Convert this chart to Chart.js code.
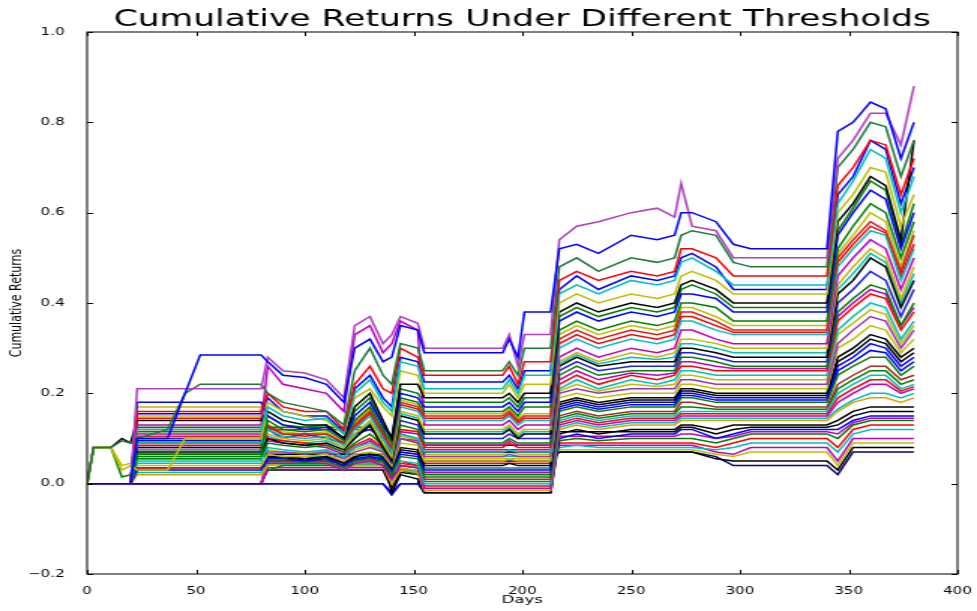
<!DOCTYPE html>
<html>
<head>
<meta charset="utf-8">
<title>Cumulative Returns Under Different Thresholds</title>
<script src="https://cdn.jsdelivr.net/npm/chart.js@4.4.1/dist/chart.umd.min.js"></script>
<style>
  html, body { margin: 0; padding: 0; background: #fff; overflow: hidden; }
</style>
</head>
<body>
<!-- drawn narrow, then stretched sideways like the source picture -->
<canvas id="chart" width="651" height="611" style="width:977px;height:611px"></canvas>
<script>
// key days where the curves change
const DAYS = [0, 3, 11, 16, 20, 23, 37, 45, 52, 80, 83, 90, 100, 110, 118, 123, 130, 136, 140, 144,
  152, 155, 191, 194, 198, 201, 213, 217, 225, 235, 250, 262, 270, 273, 278, 289, 297, 305, 340, 345,
  352, 360, 367, 374, 380]

const X_TICKS = [0, 50, 100, 150, 200, 250, 300, 350, 400]
const Y_TICKS = [-0.2, 0, 0.2, 0.4, 0.6, 0.8, 1.0]

// cumulative returns, one array per threshold
const R00 = [0, 0, 0, 0, 0, 0.1, 0.1, 0.2, 0.285, 0.285, 0.27, 0.24, 0.235, 0.22, 0.18, 0.3, 0.32, 0.27, 0.28, 0.35, 0.34, 0.29, 0.29, 0.32, 0.28, 0.38, 0.38, 0.52, 0.53, 0.51, 0.55, 0.54, 0.55, 0.6, 0.6, 0.58, 0.53, 0.52, 0.52, 0.78, 0.8, 0.845, 0.83, 0.72, 0.8]
const R01 = [0, 0, 0, 0, 0, 0.21, 0.21, 0.21, 0.21, 0.21, 0.28, 0.25, 0.245, 0.23, 0.19, 0.35, 0.37, 0.31, 0.33, 0.37, 0.355, 0.3, 0.3, 0.33, 0.26, 0.33, 0.33, 0.54, 0.57, 0.58, 0.6, 0.61, 0.59, 0.665, 0.57, 0.56, 0.5, 0.5, 0.5, 0.72, 0.76, 0.82, 0.82, 0.75, 0.88]
const R02 = [0, 0.08, 0.08, 0.095, 0.09, 0.1, 0.12, 0.2, 0.22, 0.22, 0.2, 0.18, 0.17, 0.16, 0.13, 0.25, 0.3, 0.24, 0.22, 0.31, 0.3, 0.25, 0.25, 0.27, 0.24, 0.3, 0.3, 0.48, 0.5, 0.47, 0.5, 0.49, 0.5, 0.55, 0.56, 0.55, 0.49, 0.48, 0.48, 0.7, 0.74, 0.8, 0.79, 0.68, 0.76]
const R03 = [0, 0, 0, 0, 0, 0.16, 0.16, 0.16, 0.16, 0.16, 0.2, 0.17, 0.16, 0.16, 0.12, 0.22, 0.26, 0.21, 0.2, 0.3, 0.28, 0.24, 0.24, 0.26, 0.22, 0.27, 0.27, 0.45, 0.47, 0.45, 0.47, 0.46, 0.47, 0.52, 0.52, 0.5, 0.46, 0.46, 0.46, 0.66, 0.7, 0.76, 0.75, 0.64, 0.72]
const R04 = [0, 0, 0, 0, 0, 0.12, 0.12, 0.12, 0.12, 0.12, 0.17, 0.15, 0.14, 0.145, 0.11, 0.2, 0.23, 0.18, 0.16, 0.27, 0.26, 0.21, 0.21, 0.23, 0.2, 0.24, 0.24, 0.42, 0.44, 0.42, 0.45, 0.44, 0.45, 0.49, 0.5, 0.47, 0.44, 0.44, 0.44, 0.62, 0.67, 0.74, 0.72, 0.6, 0.68]
const R05 = [0, 0.08, 0.08, 0.03, 0.04, 0.03, 0.03, 0.1, 0.1, 0.1, 0.18, 0.16, 0.15, 0.14, 0.11, 0.19, 0.21, 0.17, 0.15, 0.25, 0.24, 0.2, 0.2, 0.22, 0.19, 0.22, 0.22, 0.4, 0.42, 0.4, 0.42, 0.41, 0.42, 0.46, 0.47, 0.45, 0.42, 0.42, 0.42, 0.6, 0.64, 0.7, 0.69, 0.57, 0.64]
const R06 = [0, 0.08, 0.08, 0.1, 0.09, 0.14, 0.14, 0.14, 0.14, 0.14, 0.16, 0.14, 0.13, 0.13, 0.1, 0.17, 0.2, 0.14, 0.1, 0.22, 0.22, 0.19, 0.19, 0.2, 0.18, 0.2, 0.2, 0.38, 0.4, 0.38, 0.4, 0.39, 0.4, 0.44, 0.45, 0.43, 0.4, 0.4, 0.4, 0.58, 0.62, 0.68, 0.66, 0.54, 0.76]
const R07 = [0, 0, 0, 0, 0, 0.18, 0.18, 0.18, 0.18, 0.18, 0.15, 0.13, 0.12, 0.125, 0.1, 0.15, 0.18, 0.13, 0.1, 0.2, 0.19, 0.17, 0.17, 0.18, 0.16, 0.18, 0.18, 0.36, 0.38, 0.36, 0.38, 0.37, 0.38, 0.42, 0.42, 0.41, 0.38, 0.38, 0.38, 0.55, 0.6, 0.65, 0.63, 0.52, 0.6]
const R08 = [0, 0, 0, 0, 0, 0.065, 0.065, 0.065, 0.065, 0.065, 0.14, 0.12, 0.115, 0.12, 0.095, 0.14, 0.17, 0.12, 0.09, 0.19, 0.18, 0.16, 0.16, 0.17, 0.15, 0.17, 0.17, 0.34, 0.36, 0.34, 0.36, 0.35, 0.36, 0.4, 0.4, 0.39, 0.36, 0.36, 0.36, 0.52, 0.57, 0.62, 0.6, 0.5, 0.58]
const R09 = [0, 0, 0, 0, 0, 0.105, 0.105, 0.105, 0.105, 0.105, 0.13, 0.11, 0.11, 0.11, 0.09, 0.13, 0.16, 0.11, 0.08, 0.18, 0.17, 0.15, 0.15, 0.16, 0.14, 0.15, 0.15, 0.32, 0.34, 0.32, 0.34, 0.33, 0.34, 0.38, 0.38, 0.36, 0.34, 0.34, 0.34, 0.5, 0.54, 0.58, 0.56, 0.47, 0.55]
const R10 = [0, 0, 0, 0, 0, 0.09, 0.09, 0.09, 0.09, 0.09, 0.12, 0.105, 0.1, 0.105, 0.085, 0.12, 0.15, 0.1, 0.07, 0.17, 0.16, 0.14, 0.14, 0.15, 0.13, 0.14, 0.14, 0.3, 0.32, 0.3, 0.32, 0.31, 0.32, 0.36, 0.36, 0.34, 0.33, 0.33, 0.33, 0.48, 0.52, 0.56, 0.55, 0.45, 0.52]
const R11 = [0, 0, 0, 0, 0, 0.13, 0.13, 0.13, 0.13, 0.13, 0.26, 0.22, 0.21, 0.2, 0.16, 0.33, 0.35, 0.29, 0.31, 0.36, 0.34, 0.13, 0.13, 0.14, 0.12, 0.13, 0.13, 0.28, 0.3, 0.28, 0.3, 0.29, 0.3, 0.34, 0.34, 0.32, 0.31, 0.31, 0.31, 0.46, 0.5, 0.54, 0.52, 0.43, 0.5]
const R12 = [0, 0, 0, 0, 0, 0.17, 0.17, 0.17, 0.17, 0.17, 0.11, 0.1, 0.095, 0.1, 0.08, 0.11, 0.14, 0.09, 0.06, 0.16, 0.15, 0.12, 0.12, 0.13, 0.11, 0.12, 0.12, 0.27, 0.29, 0.27, 0.29, 0.28, 0.29, 0.32, 0.32, 0.31, 0.3, 0.3, 0.3, 0.44, 0.48, 0.52, 0.5, 0.41, 0.48]
const R13 = [0, 0, 0, 0, 0, 0.07, 0.07, 0.07, 0.07, 0.07, 0.1, 0.09, 0.085, 0.09, 0.075, 0.1, 0.13, 0.08, 0.05, 0.15, 0.14, 0.11, 0.11, 0.12, 0.1, 0.11, 0.11, 0.26, 0.28, 0.26, 0.27, 0.27, 0.27, 0.3, 0.3, 0.29, 0.28, 0.28, 0.28, 0.42, 0.45, 0.5, 0.48, 0.39, 0.45]
const R14 = [0, 0, 0, 0, 0, 0.1, 0.1, 0.1, 0.1, 0.1, 0.12, 0.1, 0.11, 0.1, 0.09, 0.11, 0.12, 0.1, 0.07, 0.14, 0.13, 0.1, 0.1, 0.11, 0.1, 0.1, 0.1, 0.25, 0.27, 0.25, 0.26, 0.26, 0.26, 0.29, 0.29, 0.28, 0.27, 0.27, 0.27, 0.4, 0.43, 0.47, 0.45, 0.37, 0.43]
const R15 = [0, 0.08, 0.08, 0.015, 0.02, 0.06, 0.06, 0.06, 0.06, 0.06, 0.09, 0.085, 0.08, 0.085, 0.07, 0.09, 0.11, 0.085, 0.06, 0.13, 0.12, 0.09, 0.09, 0.1, 0.09, 0.09, 0.09, 0.24, 0.26, 0.24, 0.25, 0.25, 0.25, 0.28, 0.28, 0.27, 0.26, 0.26, 0.26, 0.38, 0.41, 0.44, 0.43, 0.35, 0.4]
const R16 = [0, 0, 0, 0, 0, 0.145, 0.145, 0.145, 0.145, 0.145, 0.1, 0.095, 0.09, 0.085, 0.07, 0.085, 0.1, 0.08, 0.055, 0.12, 0.115, 0.08, 0.08, 0.09, 0.08, 0.08, 0.08, 0.22, 0.24, 0.22, 0.24, 0.23, 0.24, 0.26, 0.26, 0.25, 0.25, 0.25, 0.25, 0.36, 0.39, 0.42, 0.41, 0.34, 0.38]
const R17 = [0, 0, 0, 0, 0, 0.05, 0.05, 0.05, 0.05, 0.05, 0.08, 0.075, 0.07, 0.075, 0.06, 0.08, 0.09, 0.075, 0.05, 0.11, 0.1, 0.07, 0.07, 0.075, 0.07, 0.07, 0.07, 0.21, 0.23, 0.21, 0.23, 0.22, 0.23, 0.25, 0.25, 0.24, 0.24, 0.24, 0.24, 0.34, 0.37, 0.4, 0.39, 0.32, 0.36]
const R18 = [0, 0, 0, 0, 0, 0.1, 0.1, 0.1, 0.1, 0.1, 0.07, 0.07, 0.065, 0.07, 0.055, 0.07, 0.08, 0.07, 0.045, 0.1, 0.095, 0.06, 0.06, 0.065, 0.06, 0.06, 0.06, 0.2, 0.21, 0.2, 0.21, 0.21, 0.21, 0.23, 0.23, 0.22, 0.22, 0.22, 0.22, 0.31, 0.34, 0.37, 0.36, 0.3, 0.34]
const R19 = [0, 0.08, 0.08, 0.04, 0.045, 0.04, 0.04, 0.04, 0.04, 0.04, 0.065, 0.06, 0.06, 0.065, 0.05, 0.065, 0.07, 0.065, 0.04, 0.09, 0.085, 0.05, 0.05, 0.055, 0.05, 0.05, 0.05, 0.19, 0.2, 0.19, 0.2, 0.2, 0.2, 0.22, 0.22, 0.21, 0.21, 0.21, 0.21, 0.3, 0.32, 0.35, 0.34, 0.29, 0.32]
const R20 = [0, 0, 0, 0, 0, 0.08, 0.08, 0.08, 0.08, 0.08, 0.06, 0.06, 0.055, 0.06, 0.045, 0.06, 0.065, 0.06, 0.035, 0.08, 0.075, 0.04, 0.04, 0.045, 0.04, 0.04, 0.04, 0.18, 0.19, 0.18, 0.19, 0.19, 0.19, 0.21, 0.21, 0.2, 0.2, 0.2, 0.2, 0.28, 0.3, 0.33, 0.32, 0.28, 0.3]
const R21 = [0, 0, 0, 0, 0, 0.03, 0.03, 0.03, 0.03, 0.03, 0.055, 0.055, 0.05, 0.055, 0.04, 0.055, 0.06, 0.055, 0.03, 0.07, 0.065, 0.03, 0.03, 0.03, 0.03, 0.03, 0.03, 0.17, 0.18, 0.17, 0.18, 0.18, 0.18, 0.2, 0.2, 0.19, 0.19, 0.19, 0.19, 0.26, 0.28, 0.31, 0.3, 0.26, 0.28]
const R22 = [0, 0, 0, 0, 0, 0.09, 0.09, 0.09, 0.09, 0.09, 0.05, 0.05, 0.048, 0.05, 0.035, 0.05, 0.055, 0.05, 0.02, 0.06, 0.055, 0.02, 0.02, 0.02, 0.02, 0.02, 0.02, 0.16, 0.17, 0.16, 0.17, 0.17, 0.17, 0.19, 0.19, 0.18, 0.18, 0.18, 0.18, 0.24, 0.26, 0.28, 0.28, 0.24, 0.26]
const R23 = [0, 0, 0, 0, 0, 0.12, 0.12, 0.12, 0.12, 0.12, 0.12, 0.12, 0.12, 0.12, 0.12, 0.12, 0.12, 0.12, 0.05, 0.1, 0.09, 0.01, 0.01, 0.01, 0.01, 0.01, 0.01, 0.15, 0.16, 0.15, 0.16, 0.16, 0.16, 0.18, 0.18, 0.17, 0.17, 0.17, 0.17, 0.22, 0.24, 0.26, 0.26, 0.23, 0.24]
const R24 = [0, 0, 0, 0, 0, 0.06, 0.06, 0.06, 0.06, 0.06, 0.06, 0.06, 0.06, 0.06, 0.06, 0.06, 0.06, 0.06, 0.03, 0.05, 0.045, 0, 0, 0, 0, 0, 0, 0.14, 0.15, 0.14, 0.15, 0.15, 0.15, 0.16, 0.16, 0.16, 0.16, 0.16, 0.16, 0.2, 0.22, 0.24, 0.24, 0.21, 0.22]
const R25 = [0, 0, 0, 0, 0, 0.08, 0.08, 0.08, 0.08, 0.08, 0.045, 0.045, 0.045, 0.045, 0.03, 0.045, 0.05, 0.04, 0.01, 0.04, 0.035, -0.01, -0.01, -0.01, -0.01, -0.01, -0.01, 0.13, 0.14, 0.13, 0.14, 0.14, 0.14, 0.15, 0.15, 0.15, 0.15, 0.15, 0.15, 0.18, 0.2, 0.22, 0.22, 0.2, 0.21]
const R26 = [0, 0, 0, 0, 0, 0.02, 0.02, 0.02, 0.02, 0.02, 0.04, 0.045, 0.045, 0.045, 0.035, 0.04, 0.04, 0.04, 0, 0.03, 0.025, -0.015, -0.015, -0.015, -0.015, -0.015, -0.015, 0.12, 0.13, 0.12, 0.13, 0.13, 0.13, 0.14, 0.14, 0.14, 0.14, 0.14, 0.14, 0.16, 0.18, 0.19, 0.19, 0.18, 0.19]
const R27 = [0, 0, 0, 0, 0, 0.065, 0.065, 0.065, 0.065, 0.065, 0.065, 0.065, 0.065, 0.065, 0.065, 0.065, 0.065, 0.065, -0.02, 0.02, 0.01, -0.02, -0.02, -0.02, -0.02, -0.02, -0.02, 0.11, 0.12, 0.11, 0.12, 0.12, 0.12, 0.13, 0.13, 0.12, 0.13, 0.13, 0.13, 0.14, 0.16, 0.17, 0.17, 0.17, 0.17]
const R28 = [0, 0, 0, 0, 0, 0, 0, 0, 0, 0, 0, 0, 0, 0, 0, 0, 0, 0, -0.025, 0, 0, -0.02, -0.02, -0.02, -0.02, -0.02, -0.02, 0.1, 0.11, 0.1, 0.11, 0.11, 0.11, 0.12, 0.12, 0.1, 0.11, 0.12, 0.12, 0.12, 0.14, 0.15, 0.15, 0.15, 0.15]
const R29 = [0, 0, 0, 0, 0, 0.055, 0.055, 0.055, 0.055, 0.055, 0.03, 0.04, 0.04, 0.04, 0.04, 0.04, 0.04, 0.04, 0.02, 0.03, 0.02, 0.015, 0.015, 0.015, 0.015, 0.015, 0.015, 0.095, 0.1, 0.095, 0.1, 0.1, 0.1, 0.1, 0.1, 0.09, 0.1, 0.11, 0.11, 0.1, 0.13, 0.14, 0.14, 0.14, 0.14]
const R30 = [0, 0, 0, 0, 0, 0.035, 0.035, 0.035, 0.035, 0.035, 0.05, 0.05, 0.05, 0.05, 0.05, 0.05, 0.05, 0.05, 0.03, 0.05, 0.04, 0.045, 0.045, 0.045, 0.045, 0.045, 0.045, 0.09, 0.09, 0.09, 0.09, 0.09, 0.09, 0.09, 0.09, 0.08, 0.09, 0.1, 0.1, 0.08, 0.12, 0.13, 0.13, 0.13, 0.13]
const R31 = [0, 0, 0, 0, 0, 0.045, 0.045, 0.045, 0.045, 0.045, 0.045, 0.045, 0.045, 0.045, 0.045, 0.045, 0.045, 0.045, 0.02, 0.04, 0.035, 0.035, 0.035, 0.035, 0.035, 0.035, 0.035, 0.08, 0.085, 0.08, 0.08, 0.08, 0.08, 0.08, 0.08, 0.075, 0.08, 0.09, 0.09, 0.07, 0.11, 0.12, 0.12, 0.12, 0.12]
const R32 = [0, 0, 0, 0, 0, 0, 0, 0, 0, 0, 0.035, 0.035, 0.035, 0.035, 0.035, 0.035, 0.035, 0.035, 0.015, 0.03, 0.025, 0.025, 0.025, 0.025, 0.025, 0.025, 0.025, 0.085, 0.085, 0.085, 0.085, 0.085, 0.085, 0.085, 0.085, 0.07, 0.065, 0.08, 0.08, 0.05, 0.1, 0.1, 0.1, 0.1, 0.1]
const R33 = [0, 0, 0, 0, 0, 0, 0, 0, 0, 0, 0.04, 0.04, 0.04, 0.04, 0.04, 0.04, 0.04, 0.04, 0.01, 0.035, 0.03, 0.055, 0.055, 0.055, 0.055, 0.055, 0.055, 0.075, 0.075, 0.075, 0.075, 0.075, 0.075, 0.075, 0.075, 0.065, 0.06, 0.07, 0.07, 0.04, 0.09, 0.09, 0.09, 0.09, 0.09]
const R34 = [0, 0, 0, 0, 0, 0, 0, 0, 0, 0, 0.03, 0.03, 0.03, 0.03, 0.03, 0.03, 0.03, 0.03, -0.01, 0.025, 0.02, 0.07, 0.07, 0.07, 0.07, 0.07, 0.07, 0.07, 0.07, 0.07, 0.07, 0.07, 0.07, 0.07, 0.07, 0.055, 0.05, 0.05, 0.05, 0.03, 0.08, 0.08, 0.08, 0.08, 0.08]
const R35 = [0, 0, 0, 0, 0, 0, 0, 0, 0, 0, 0, 0, 0, 0, 0, 0, 0, 0, -0.02, 0, 0, 0.05, 0.05, 0.05, 0.05, 0.05, 0.05, 0.07, 0.07, 0.07, 0.07, 0.07, 0.07, 0.07, 0.07, 0.06, 0.04, 0.04, 0.04, 0.02, 0.07, 0.07, 0.07, 0.07, 0.07]
const R36 = [0, 0, 0, 0, 0, 0.155, 0.155, 0.155, 0.155, 0.155, 0.19, 0.16, 0.15, 0.15, 0.115, 0.21, 0.24, 0.19, 0.17, 0.28, 0.27, 0.225, 0.225, 0.24, 0.21, 0.25, 0.25, 0.43, 0.46, 0.43, 0.46, 0.45, 0.46, 0.5, 0.51, 0.48, 0.43, 0.43, 0.43, 0.64, 0.68, 0.76, 0.74, 0.62, 0.7]
const R37 = [0, 0, 0, 0, 0, 0.115, 0.115, 0.115, 0.115, 0.115, 0.15, 0.13, 0.125, 0.13, 0.1, 0.16, 0.19, 0.13, 0.1, 0.21, 0.2, 0.18, 0.18, 0.19, 0.17, 0.19, 0.19, 0.37, 0.39, 0.37, 0.39, 0.38, 0.39, 0.43, 0.44, 0.42, 0.39, 0.39, 0.39, 0.56, 0.61, 0.67, 0.65, 0.53, 0.62]
const R38 = [0, 0, 0, 0, 0, 0.085, 0.085, 0.085, 0.085, 0.085, 0.125, 0.11, 0.105, 0.11, 0.09, 0.125, 0.155, 0.105, 0.075, 0.175, 0.165, 0.145, 0.145, 0.155, 0.135, 0.145, 0.145, 0.31, 0.33, 0.31, 0.33, 0.32, 0.33, 0.37, 0.37, 0.35, 0.335, 0.335, 0.335, 0.49, 0.53, 0.57, 0.555, 0.46, 0.53]
const R39 = [0, 0, 0, 0, 0, 0.075, 0.075, 0.075, 0.075, 0.075, 0.105, 0.095, 0.09, 0.095, 0.08, 0.105, 0.135, 0.085, 0.055, 0.155, 0.145, 0.115, 0.115, 0.125, 0.105, 0.115, 0.115, 0.265, 0.285, 0.265, 0.28, 0.275, 0.28, 0.31, 0.31, 0.3, 0.29, 0.29, 0.29, 0.43, 0.465, 0.51, 0.49, 0.4, 0.465]
const R40 = [0, 0, 0, 0, 0, 0.11, 0.11, 0.11, 0.11, 0.11, 0.095, 0.09, 0.085, 0.08, 0.065, 0.08, 0.095, 0.075, 0.05, 0.115, 0.11, 0.085, 0.085, 0.095, 0.085, 0.085, 0.085, 0.23, 0.25, 0.23, 0.245, 0.24, 0.245, 0.27, 0.27, 0.26, 0.255, 0.255, 0.255, 0.37, 0.4, 0.43, 0.42, 0.35, 0.39]
const R41 = [0, 0, 0, 0, 0, 0.055, 0.055, 0.055, 0.055, 0.055, 0.075, 0.07, 0.068, 0.072, 0.058, 0.075, 0.085, 0.072, 0.048, 0.105, 0.098, 0.065, 0.065, 0.07, 0.065, 0.065, 0.065, 0.205, 0.22, 0.205, 0.22, 0.215, 0.22, 0.24, 0.24, 0.23, 0.23, 0.23, 0.23, 0.33, 0.355, 0.385, 0.375, 0.31, 0.35]
const R42 = [0, 0, 0, 0, 0, 0.035, 0.035, 0.035, 0.035, 0.035, 0.058, 0.058, 0.052, 0.058, 0.042, 0.058, 0.062, 0.058, 0.032, 0.075, 0.07, 0.035, 0.035, 0.035, 0.035, 0.035, 0.035, 0.175, 0.185, 0.175, 0.185, 0.185, 0.185, 0.205, 0.205, 0.195, 0.195, 0.195, 0.195, 0.27, 0.29, 0.32, 0.31, 0.27, 0.29]
const R43 = [0, 0, 0, 0, 0, 0.095, 0.095, 0.095, 0.095, 0.095, 0.052, 0.052, 0.05, 0.052, 0.038, 0.052, 0.058, 0.052, 0.025, 0.065, 0.06, 0.025, 0.025, 0.025, 0.025, 0.025, 0.025, 0.165, 0.175, 0.165, 0.175, 0.175, 0.175, 0.195, 0.195, 0.185, 0.185, 0.185, 0.185, 0.25, 0.27, 0.295, 0.29, 0.25, 0.27]
const R44 = [0, 0, 0, 0, 0, 0.125, 0.125, 0.125, 0.125, 0.125, 0.125, 0.125, 0.125, 0.125, 0.125, 0.125, 0.125, 0.125, 0.06, 0.11, 0.1, 0.005, 0.005, 0.005, 0.005, 0.005, 0.005, 0.145, 0.155, 0.145, 0.155, 0.155, 0.155, 0.17, 0.17, 0.165, 0.165, 0.165, 0.165, 0.21, 0.23, 0.25, 0.25, 0.22, 0.23]
const R45 = [0, 0, 0, 0, 0, 0.075, 0.075, 0.075, 0.075, 0.075, 0.05, 0.05, 0.05, 0.05, 0.04, 0.05, 0.055, 0.045, 0.015, 0.045, 0.04, -0.005, -0.005, -0.005, -0.005, -0.005, -0.005, 0.135, 0.145, 0.135, 0.145, 0.145, 0.145, 0.155, 0.155, 0.155, 0.155, 0.155, 0.155, 0.19, 0.21, 0.23, 0.23, 0.205, 0.215]
const R46 = [0, 0, 0, 0, 0, 0.025, 0.025, 0.025, 0.025, 0.025, 0.042, 0.042, 0.042, 0.042, 0.035, 0.042, 0.042, 0.042, 0.005, 0.032, 0.028, 0.06, 0.06, 0.06, 0.06, 0.06, 0.06, 0.125, 0.135, 0.125, 0.135, 0.135, 0.135, 0.145, 0.145, 0.145, 0.145, 0.145, 0.145, 0.165, 0.185, 0.2, 0.2, 0.19, 0.2]
const R47 = [0, 0, 0, 0, 0, 0, 0, 0, 0, 0, 0.06, 0.06, 0.055, 0.06, 0.05, 0.06, 0.065, 0.06, 0.035, 0.07, 0.065, 0.075, 0.075, 0.075, 0.075, 0.075, 0.075, 0.105, 0.105, 0.105, 0.105, 0.105, 0.105, 0.11, 0.11, 0.1, 0.105, 0.115, 0.115, 0.11, 0.135, 0.145, 0.145, 0.145, 0.145]
const R48 = [0, 0, 0, 0, 0, 0.15, 0.15, 0.15, 0.15, 0.15, 0.13, 0.115, 0.11, 0.115, 0.09, 0.135, 0.165, 0.115, 0.085, 0.185, 0.175, 0.155, 0.155, 0.165, 0.145, 0.155, 0.155, 0.33, 0.35, 0.33, 0.35, 0.34, 0.35, 0.39, 0.39, 0.37, 0.35, 0.35, 0.35, 0.51, 0.55, 0.6, 0.58, 0.48, 0.56]
const R49 = [0, 0, 0, 0, 0, 0, 0, 0, 0, 0, 0.045, 0.045, 0.045, 0.045, 0.04, 0.045, 0.045, 0.045, 0.02, 0.04, 0.035, 0.085, 0.085, 0.085, 0.085, 0.085, 0.085, 0.115, 0.115, 0.115, 0.115, 0.115, 0.115, 0.125, 0.125, 0.11, 0.12, 0.125, 0.125, 0.13, 0.15, 0.16, 0.16, 0.16, 0.16]

const SERIES = [R00, R01, R02, R03, R04, R05, R06, R07, R08, R09, R10, R11, R12, R13, R14, R15, R16, R17,
  R18, R19, R20, R21, R22, R23, R24, R25, R26, R27, R28, R29, R30, R31, R32, R33, R34, R35,
  R36, R37, R38, R39, R40, R41, R42, R43, R44, R45, R46, R47, R48, R49]

const LINE_COLORS = [
  '#0000ff', '#b03fbf', '#1e7a3c', '#ff0000', '#00bfbf', '#bfbf00', '#000000',
  '#0000ff', '#008000', '#d62020', '#00bfbf', '#bf00bf', '#c8b400', '#000000',
  '#2020e0', '#008000', '#ff0000', '#00bfbf', '#9b30c0', '#bfbf00', '#000000',
  '#0000ff', '#008000', '#a52a2a', '#00bfbf', '#bf00bf', '#e0a000', '#000000',
  '#0000ff', '#008000', '#ff0000', '#00bfbf', '#bf00bf', '#bfbf00', '#000000', '#000080',
  '#0000ff', '#008000', '#ff0000', '#00bfbf', '#bf00bf', '#bfbf00', '#000000',
  '#0000ff', '#008000', '#ff0000', '#00bfbf', '#bf00bf', '#bfbf00', '#000000'
]

const fmtTick = (v) => v.toFixed(1).replace('-', '\u2212')

// frame and inward tick marks on all four sides
const frameTicks = {
  id: 'frameTicks',
  afterDatasetsDraw (chart) {
    const { ctx, chartArea: { left, right, top, bottom }, scales: { x, y } } = chart
    ctx.save()
    ctx.strokeStyle = '#000'
    ctx.lineWidth = 1
    ctx.strokeRect(left, top, right - left, bottom - top)
    ctx.beginPath()
    X_TICKS.forEach(v => {
      const px = Math.round(x.getPixelForValue(v)) + 0.5
      ctx.moveTo(px, bottom); ctx.lineTo(px, bottom - 4)
      ctx.moveTo(px, top); ctx.lineTo(px, top + 4)
    })
    Y_TICKS.forEach(v => {
      const py = Math.round(y.getPixelForValue(v)) + 0.5
      ctx.moveTo(left, py); ctx.lineTo(left + 4, py)
      ctx.moveTo(right, py); ctx.lineTo(right - 4, py)
    })
    ctx.stroke()
    ctx.restore()
  }
}

Chart.defaults.font.family = "'DejaVu Sans', sans-serif"
Chart.defaults.color = '#000'

const datasets = SERIES.map((vals, i) => ({
  data: DAYS.map((d, j) => ({ x: d, y: vals[j] })),
  borderColor: LINE_COLORS[i],
  backgroundColor: LINE_COLORS[i],
  borderWidth: 1.5,
  pointRadius: 0,
  tension: 0,
  fill: false
}))

new Chart(document.getElementById('chart').getContext('2d'), {
  type: 'line',
  data: { datasets },
  options: {
    responsive: false,
    devicePixelRatio: 1,
    animation: false,
    events: [],
    layout: { padding: { left: 0, right: 13, top: 0, bottom: 0 } },
    plugins: {
      legend: { display: false },
      tooltip: { enabled: false },
      title: {
        display: true,
        text: 'Cumulative Returns Under Different Thresholds',
        fullSize: false,
        color: '#000',
        font: { size: 23, weight: 'normal', lineHeight: 1 },
        padding: { top: 9, bottom: 0 }
      }
    },
    scales: {
      x: {
        type: 'linear',
        min: 0,
        max: 400,
        grid: { display: false },
        border: { display: false },
        ticks: { stepSize: 50, padding: 3, maxRotation: 0, font: { size: 10 } },
        afterBuildTicks: (s) => { s.ticks = X_TICKS.map(v => ({ value: v })) },
        title: { display: true, text: 'Days', font: { size: 11 }, padding: { top: 0, bottom: 4 } },
        afterFit: (s) => { s.height = 37 }
      },
      y: {
        min: -0.2,
        max: 1.0,
        grid: { display: false },
        border: { display: false },
        ticks: { padding: 7, font: { size: 10 }, callback: (v) => fmtTick(v) },
        afterBuildTicks: (s) => { s.ticks = Y_TICKS.map(v => ({ value: v })) },
        title: { display: true, text: 'Cumulative Returns', font: { size: 11 }, padding: { top: 5, bottom: 0 } },
        afterFit: (s) => { s.width = 58 }
      }
    }
  },
  plugins: [frameTicks]
})
</script>
</body>
</html>
